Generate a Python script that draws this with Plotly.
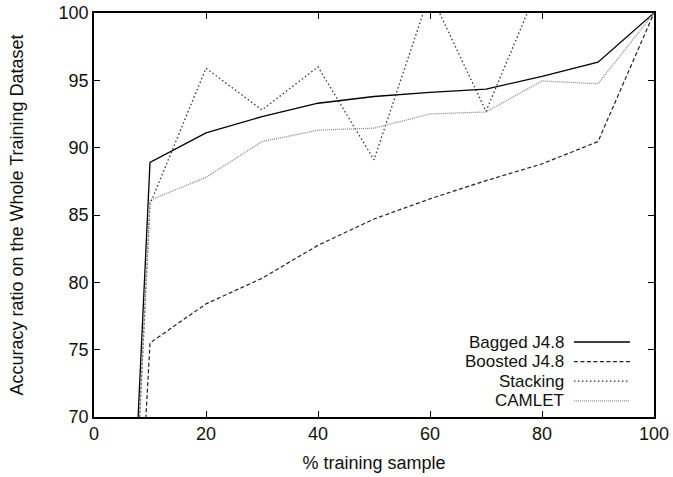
import plotly.graph_objects as go

x_pct = [0, 10, 20, 30, 40, 50, 60, 70, 80, 90, 100]
bagged = [0, 88.9, 91.1, 92.3, 93.3, 93.8, 94.1, 94.35, 95.3, 96.35, 100]
boosted = [0, 75.5, 78.4, 80.3, 82.75, 84.7, 86.2, 87.55, 88.8, 90.45, 100]
stacking = [0, 85.8, 95.9, 92.8, 96.0, 89.1, 101.5, 92.7, 102.6, 103.0, 100]
camlet = [0, 86.1, 87.8, 90.45, 91.3, 91.45, 92.5, 92.65, 94.95, 94.75, 100]

names = ["Bagged J4.8", "Boosted J4.8", "Stacking", "CAMLET"]
series = [bagged, boosted, stacking, camlet]
styles = [
    dict(color="#000000", width=1.3, dash="solid"),
    dict(color="#222222", width=1.2, dash="4px,2.5px"),
    dict(color="#333333", width=1.3, dash="1.5px,2.5px"),
    dict(color="#888888", width=1.3, dash="1px,1px"),
]

x_ticks = [0, 20, 40, 60, 80, 100]
y_ticks = [70, 75, 80, 85, 90, 95, 100]

FONT = "Liberation Sans, Arial, Helvetica, sans-serif"
FS = 18

fig = go.Figure()
for nm, ys, st in zip(names, series, styles):
    fig.add_trace(go.Scatter(x=x_pct, y=ys, mode="lines", name=nm,
                             line=st, showlegend=False))

# custom legend: right-aligned text with line sample on the right
legend_top = 0.1856
row_h = 0.0485
for i, (nm, st) in enumerate(zip(names, styles)):
    yy = legend_top - i * row_h
    fig.add_annotation(x=0.841, y=yy, xref="paper", yref="paper", text=nm,
                       showarrow=False, xanchor="right", yanchor="middle",
                       borderpad=0,
                       font=dict(family=FONT, size=17, color="#111111"))
    fig.add_shape(type="line", xref="paper", yref="paper",
                  x0=0.857, x1=0.957, y0=yy, y1=yy, line=st)

axis_common = dict(showline=True, linecolor="black", linewidth=1.5, mirror="allticks",
                   ticks="inside", ticklen=6, tickwidth=1.2, tickcolor="black",
                   showgrid=False, zeroline=False,
                   tickfont=dict(family=FONT, size=FS, color="#111111"))

fig.update_layout(
    width=673, height=477,
    margin=dict(l=94, r=19, t=13, b=60),
    paper_bgcolor="white", plot_bgcolor="white",
    xaxis=dict(range=[0, 100], tickvals=x_ticks, automargin=False,
               title=dict(text="% training sample", standoff=13,
                          font=dict(family=FONT, size=FS, color="#111111")),
               **axis_common),
    yaxis=dict(range=[70, 100], tickvals=y_ticks, automargin=False,
               title=dict(text="Accuracy ratio on the Whole Training Dataset", standoff=30,
                          font=dict(family=FONT, size=FS, color="#111111")),
               **axis_common),
)

fig.write_html("out.html")
